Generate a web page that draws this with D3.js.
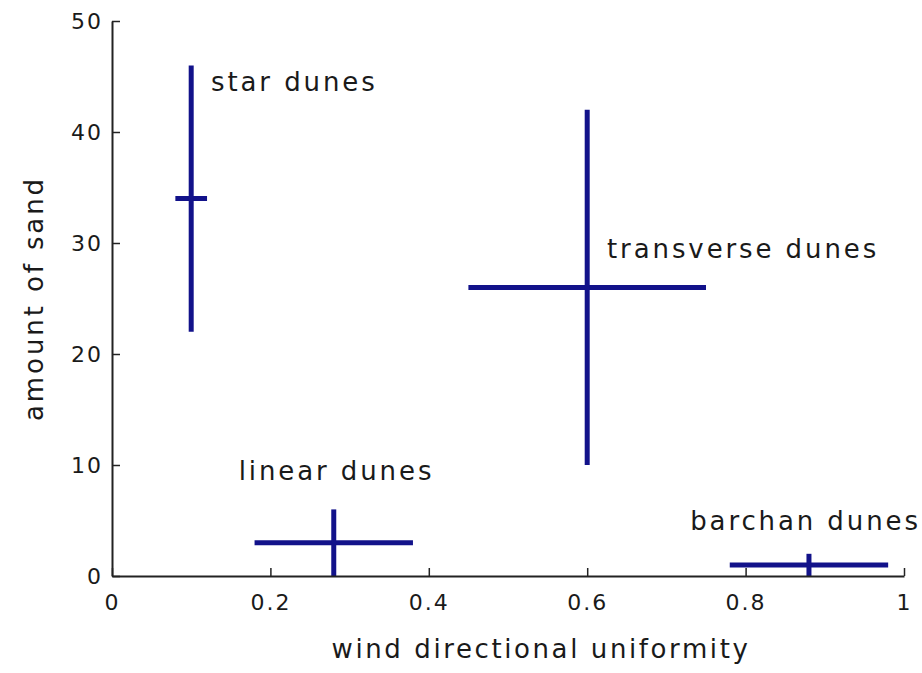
<!DOCTYPE html>
<html>
<head>
<meta charset="utf-8">
<script src="https://cdn.jsdelivr.net/npm/d3@7"></script>
<style>
  html, body { margin: 0; padding: 0; background: #fff; }
  svg { display: block; }
  text { font-family: "DejaVu Sans", sans-serif; fill: #1a1a1a; }
</style>
</head>
<body>
<svg id="chart" width="922" height="673"></svg>
<script>
// Dune types: centre and extent along each axis
const duneNames   = ["star dunes", "linear dunes", "transverse dunes", "barchan dunes"];
const uniformity  = [0.10, 0.28, 0.60, 0.88];
const uniformLo   = [0.08, 0.18, 0.45, 0.78];
const uniformHi   = [0.12, 0.38, 0.75, 0.98];
const sand        = [34, 3, 26, 1];
const sandLo      = [22, 0, 10, 0];
const sandHi      = [46, 6, 42, 2];
// label anchor points (data units)
const labelX      = [0.125, 0.16, 0.625, 0.73];
const labelY      = [44.5, 9.5, 29.5, 5];

const xTicks = [0, 0.2, 0.4, 0.6, 0.8, 1];
const yTicks = [0, 10, 20, 30, 40, 50];

const svg = d3.select("#chart");
const x = d3.scaleLinear().domain([0, 1]).range([112, 904]);
const y = d3.scaleLinear().domain([0, 50]).range([576, 21]);

const ink = "#12128a";

// crosses
const g = svg.append("g");
duneNames.forEach((name, i) => {
  g.append("line")
    .attr("x1", x(uniformLo[i])).attr("x2", x(uniformHi[i]))
    .attr("y1", y(sand[i])).attr("y2", y(sand[i]))
    .attr("stroke", ink).attr("stroke-width", 5);
  g.append("line")
    .attr("x1", x(uniformity[i])).attr("x2", x(uniformity[i]))
    .attr("y1", y(sandLo[i])).attr("y2", y(sandHi[i]))
    .attr("stroke", ink).attr("stroke-width", 5);
  svg.append("text")
    .attr("x", x(labelX[i])).attr("y", y(labelY[i]))
    .attr("dominant-baseline", "central")
    .attr("font-size", 26)
    .attr("letter-spacing", 2.9)
    .text(name);
});

// axes with inward ticks
const xAxis = d3.axisBottom(x).tickValues(xTicks).tickSizeInner(-8).tickSizeOuter(0)
  .tickPadding(18).tickFormat(d => d === 0 ? "0" : d === 1 ? "1" : d3.format(".1f")(d));
const yAxis = d3.axisLeft(y).tickValues(yTicks).tickSizeInner(-8).tickSizeOuter(0)
  .tickPadding(9);

const gx = svg.append("g").attr("transform", `translate(0,${y(0)})`).call(xAxis);
const gy = svg.append("g").attr("transform", `translate(${x(0)},0)`).call(yAxis);

[gx, gy].forEach(a => {
  a.select(".domain").attr("stroke", "#222").attr("stroke-width", 2);
  a.selectAll(".tick line").attr("stroke", "#222").attr("stroke-width", 1.5);
  a.selectAll(".tick text").attr("font-size", 22).attr("font-family", "DejaVu Sans, sans-serif")
    .attr("fill", "#1a1a1a").attr("letter-spacing", 2);
});
gx.selectAll(".tick text").attr("dy", "0.71em");

// axis titles
svg.append("text")
  .attr("x", 541).attr("y", 658)
  .attr("text-anchor", "middle")
  .attr("font-size", 26)
  .attr("letter-spacing", 2.6)
  .text("wind directional uniformity");

svg.append("text")
  .attr("transform", `translate(34,${y(25)}) rotate(-90)`)
  .attr("text-anchor", "middle")
  .attr("dominant-baseline", "central")
  .attr("font-size", 26)
  .attr("letter-spacing", 2.9)
  .text("amount of sand");
</script>
</body>
</html>
